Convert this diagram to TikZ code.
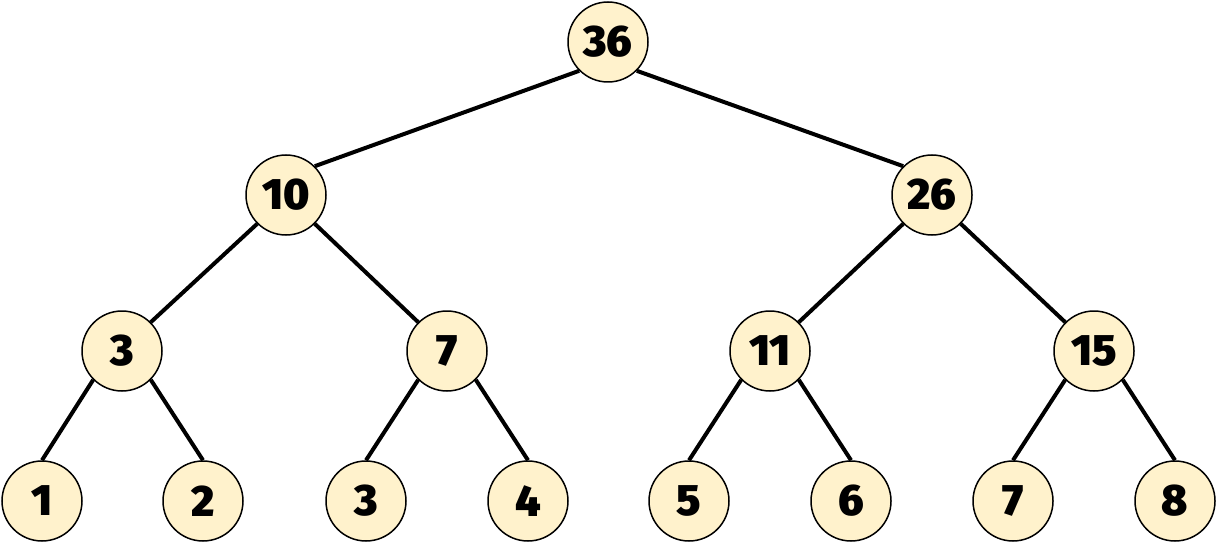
\documentclass[tikz,border=0pt]{standalone}
\usepackage{fontspec}
\setmainfont{Fira Sans}[BoldFont={Fira Sans Black}]
\begin{document}
\begin{tikzpicture}[x=1pt,y=-1pt,
  tn/.style={circle,draw=black,line width=1.5pt,fill=nodefill,minimum size=80pt,inner sep=0pt,font=\fontsize{44}{44}\selectfont\bfseries},
  edge/.style={line width=4pt}]
\definecolor{nodefill}{HTML}{FFF2CC}
\useasboundingbox (0,0) rectangle (1217,548);
\node[tn] (r) at (608,42) {36};
\node[tn] (a) at (286,195) {10};
\node[tn] (b) at (932,195) {26};
\node[tn] (aa) at (122,351) {3};
\node[tn] (ab) at (447,351) {7};
\node[tn] (ba) at (770,351) {11};
\node[tn] (bb) at (1094,351) {15};
\node[tn] (l1) at (42,501) {1};
\node[tn] (l2) at (203,501) {2};
\node[tn] (l3) at (366,501) {3};
\node[tn] (l4) at (528,501) {4};
\node[tn] (l5) at (689,501) {5};
\node[tn] (l6) at (851,501) {6};
\node[tn] (l7) at (1013,501) {7};
\node[tn] (l8) at (1175,501) {8};
\draw[edge] (r.south west) -- (a.north east);
\draw[edge] (r.south east) -- (b.north west);
\draw[edge] (a.south west) -- (aa.north east);
\draw[edge] (a.south east) -- (ab.north west);
\draw[edge] (b.south west) -- (ba.north east);
\draw[edge] (b.south east) -- (bb.north west);
\draw[edge] (aa.south west) -- (l1.north);
\draw[edge] (aa.south east) -- (l2.north);
\draw[edge] (ab.south west) -- (l3.north);
\draw[edge] (ab.south east) -- (l4.north);
\draw[edge] (ba.south west) -- (l5.north);
\draw[edge] (ba.south east) -- (l6.north);
\draw[edge] (bb.south west) -- (l7.north);
\draw[edge] (bb.south east) -- (l8.north);
\end{tikzpicture}
\end{document}
